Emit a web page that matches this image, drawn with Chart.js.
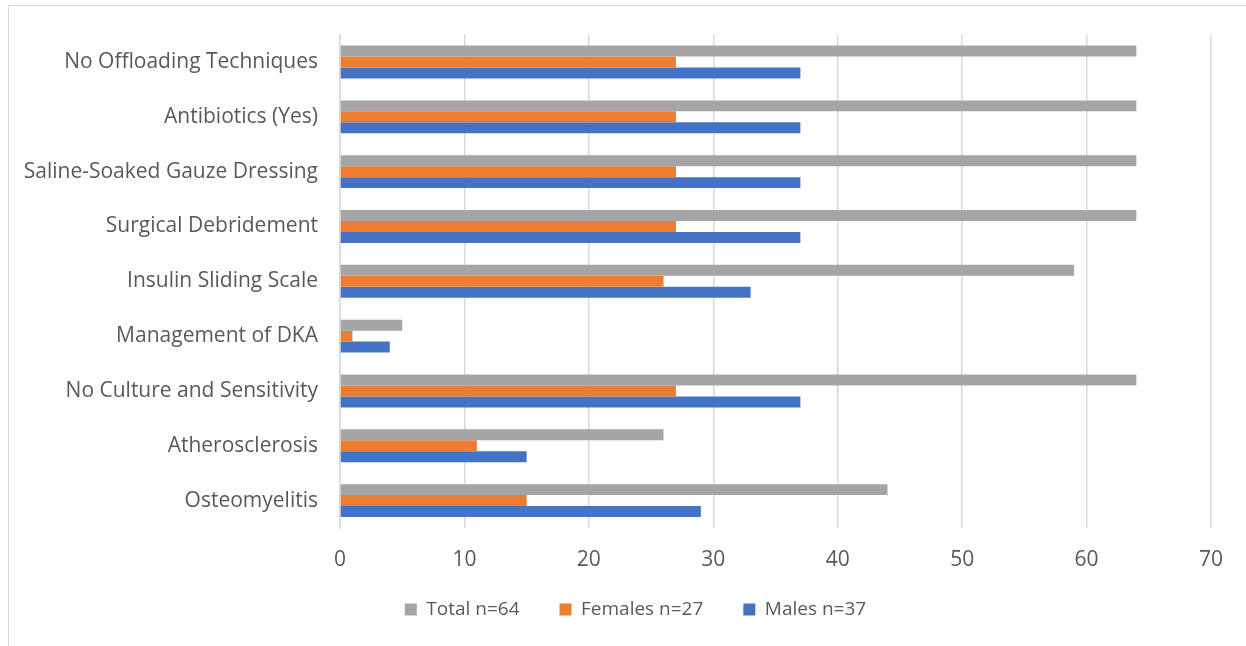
<!DOCTYPE html>
<html>
<head>
<meta charset="utf-8">
<script src="https://cdn.jsdelivr.net/npm/chart.js@4"></script>
<style>
  html, body { margin: 0; padding: 0; background: #fff; }
  #wrap { position: relative; width: 1246px; height: 646px; }
  #frame { position: absolute; left: 8px; top: 5px; right: -2px; bottom: -2px; border: 1px solid #d9d9d9; }
  canvas { position: absolute; left: 0; top: 0; }
</style>
</head>
<body>
<div id="wrap">
  <div id="frame"></div>
  <canvas id="myChart" width="1246" height="646"></canvas>
</div>
<script>
var categories = [
    "No Offloading Techniques",
    "Antibiotics (Yes)",
    "Saline-Soaked Gauze Dressing",
    "Surgical Debridement",
    "Insulin Sliding Scale",
    "Management of DKA",
    "No Culture and Sensitivity",
    "Atherosclerosis",
    "Osteomyelitis"
];
var totalVals = [64, 64, 64, 64, 59, 5, 64, 26, 44];
var femaleVals = [27, 27, 27, 27, 26, 1, 27, 11, 15];
var maleVals = [37, 37, 37, 37, 33, 4, 37, 15, 29];
var seriesNames = ["Total n=64", "Females n=27", "Males n=37"];
var xTicks = [0, 10, 20, 30, 40, 50, 60, 70];

const barColors = ["#a5a5a5", "#ed7d31", "#4472c4"];
const fontFam = "'Open Sans', Lato, sans-serif";
const textCol = "#595959";
const padLeft = 20;

Chart.defaults.font.family = fontFam;
Chart.defaults.color = textCol;

// move the legend a bit: centre it like the original and put it on its row
const legendPlace = {
    id: "legendPlace",
    afterLayout: function (chart) {
        var lg = chart.legend;
        var h = lg.bottom - lg.top;
        lg.left = 60;
        lg.top = 560;
        lg.bottom = lg.top + h;
    }
};

new Chart("myChart", {
    type: "bar",
    data: {
        labels: categories,
        datasets: [
            { label: seriesNames[0], data: totalVals, backgroundColor: barColors[0] },
            { label: seriesNames[1], data: femaleVals, backgroundColor: barColors[1] },
            { label: seriesNames[2], data: maleVals, backgroundColor: barColors[2] }
        ]
    },
    plugins: [legendPlace],
    options: {
        indexAxis: "y",
        responsive: false,
        animation: false,
        layout: { padding: { left: padLeft, right: 35, top: 34, bottom: -18 } },
        datasets: { bar: { categoryPercentage: 0.6, barPercentage: 1.0 } },
        scales: {
            x: {
                min: 0,
                max: 70,
                afterBuildTicks: function (scale) {
                    scale.ticks = xTicks.map(function (v) { return { value: v }; });
                },
                afterFit: function (scale) { scale.height = 67; },
                grid: { color: "#d9d9d9", lineWidth: 1.5, drawTicks: false },
                border: { display: false },
                ticks: { font: { size: 21 }, padding: 19, color: textCol }
            },
            y: {
                afterFit: function (scale) { scale.width = 340 - padLeft; },
                grid: { display: false, drawTicks: false },
                border: { color: "#d9d9d9", width: 1.5 },
                ticks: { font: { size: 21 }, padding: 22, color: textCol }
            }
        },
        plugins: {
            title: { display: false },
            tooltip: { enabled: false },
            legend: {
                position: "bottom",
                labels: {
                    boxWidth: 12,
                    boxHeight: 12,
                    padding: 40,
                    font: { size: 19 },
                    color: textCol
                }
            }
        }
    }
});
</script>
</body>
</html>
